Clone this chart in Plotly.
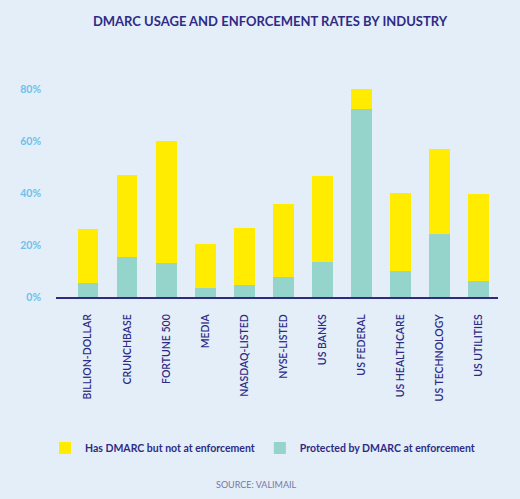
import plotly.graph_objects as go

categories = ["BILLION-DOLLAR", "CRUNCHBASE", "FORTUNE 500", "MEDIA", "NASDAQ-LISTED",
              "NYSE-LISTED", "US BANKS", "US FEDERAL", "US HEALTHCARE", "US TECHNOLOGY", "US UTILITIES"]
# percent of domains protected by DMARC at enforcement
enforced = [5.3, 15.5, 13.2, 3.3, 4.6, 7.7, 13.5, 72.2, 10.0, 24.4, 6.3]
# total percent with a DMARC record
total_dmarc = [26.0, 46.9, 60.0, 20.4, 26.4, 35.8, 46.5, 79.9, 39.9, 56.8, 39.5]
not_enforced = [round(t - e, 1) for t, e in zip(total_dmarc, enforced)]

y_tickvals = [0, 20, 40, 60, 80]
y_ticktext = ["0%", "20%", "40%", "60%", "80%"]

NAVY = "#2f2b85"
BG = "#e3eef9"
YELLOW = "#ffec00"
TEAL = "#94d4cb"
FONT = "Lato"

fig = go.Figure()
fig.add_trace(go.Bar(x=categories, y=enforced, name="Protected by DMARC at enforcement",
                     marker=dict(color=TEAL, line=dict(width=0))))
fig.add_trace(go.Bar(x=categories, y=not_enforced, name="Has DMARC but not at enforcement",
                     marker=dict(color=YELLOW, line=dict(width=0))))

fig.update_layout(
    width=520, height=499,
    margin=dict(l=56, r=22, t=60, b=202, autoexpand=False),
    paper_bgcolor=BG, plot_bgcolor=BG,
    barmode="stack", bargap=0.47,
    showlegend=True,
    title=dict(text="DMARC USAGE AND ENFORCEMENT RATES BY INDUSTRY",
               x=270 / 520, xanchor="center", xref="container",
               y=1 - 21.7 / 499, yanchor="middle", yref="container",
               font=dict(family=FONT, size=13, color=NAVY, weight=700)),
    legend=dict(orientation="h", traceorder="reversed",
                xref="container", yref="container",
                x=45 / 520, xanchor="left", y=1 - 448 / 499, yanchor="middle",
                font=dict(family=FONT, size=10.5, color=NAVY, weight=700),
                bgcolor="rgba(0,0,0,0)"),
    xaxis=dict(range=[-0.82, 10.49], showline=True, linecolor=NAVY, linewidth=2,
               tickangle=-90, ticks="", showgrid=False, zeroline=False, automargin=False,
               tickfont=dict(family=FONT, size=10.5, color=NAVY, weight=600),
               ticklabelstandoff=11),
    yaxis=dict(range=[0, 91.2], tickvals=y_tickvals, ticktext=y_ticktext,
               showgrid=False, zeroline=False, showline=False, ticks="", automargin=False,
               tickfont=dict(family=FONT, size=10.5, color="#6ec1ea", weight=700),
               ticklabelstandoff=14),
    annotations=[dict(text="SOURCE: VALIMAIL", xref="paper", yref="paper",
                      x=(256 - 56) / 442, y=(297 - 484) / 237, xanchor="center", yanchor="middle",
                      showarrow=False, font=dict(family=FONT, size=9, color="#77779f"))],
)

fig.write_html("out.html", config={"displayModeBar": False},
               post_script="document.body.style.margin='0';document.body.style.overflow='hidden';")
